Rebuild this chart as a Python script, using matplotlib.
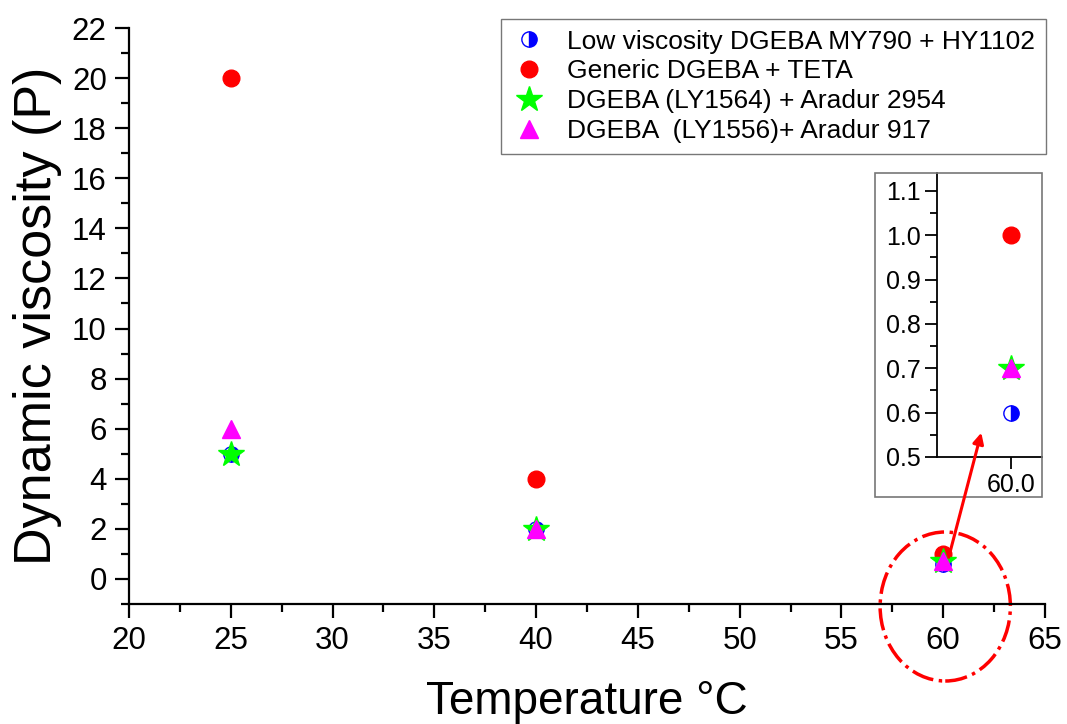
import matplotlib
matplotlib.use("Agg")
import matplotlib.pyplot as plt
from matplotlib.patches import Ellipse, Rectangle, FancyArrowPatch
from matplotlib.ticker import MultipleLocator, FixedLocator, FormatStrFormatter

plt.rcParams['font.family'] = ['Liberation Sans', 'DejaVu Sans']

temps = [25, 40, 60]
low_visc = [5, 2, 0.6]
generic = [20, 4, 1.0]
ly1564 = [5, 2, 0.7]
ly1556 = [6, 2, 0.7]
inset_temp = [60]
labels = ["Low viscosity DGEBA MY790 + HY1102",
          "Generic DGEBA + TETA",
          "DGEBA (LY1564) + Aradur 2954",
          "DGEBA  (LY1556)+ Aradur 917"]

W, H = 1067, 724
fig = plt.figure(figsize=(W/100, H/100), dpi=100)

def fx(px): return px / W
def fy(py): return 1 - py / H

ax = fig.add_axes([fx(129), fy(604), fx(1045) - fx(129), fy(28) - fy(604)])

def draw(a, xs, idx):
    h = []
    h.append(a.plot(xs, [low_visc[i] for i in idx], 'o', ms=11, fillstyle='right',
                    markerfacecolor='#0000ff', markerfacecoloralt='white',
                    markeredgecolor='#0000ff', mew=1, linestyle='none')[0])
    h.append(a.plot(xs, [generic[i] for i in idx], 'o', ms=12, color='#ff0000',
                    mec='#ff0000', linestyle='none')[0])
    h.append(a.plot(xs, [ly1564[i] for i in idx], '*', ms=19, color='#00ff00',
                    mec='#00ff00', linestyle='none')[0])
    h.append(a.plot(xs, [ly1556[i] for i in idx], '^', ms=13, color='#ff00ff',
                    mec='#ff00ff', linestyle='none')[0])
    return h

handles = draw(ax, temps, [0, 1, 2])

ax.set_xlim(20, 65)
ax.set_ylim(-1, 22)
ax.xaxis.set_major_locator(MultipleLocator(5))
ax.xaxis.set_minor_locator(MultipleLocator(2.5))
ax.yaxis.set_major_locator(MultipleLocator(2))
ax.yaxis.set_minor_locator(MultipleLocator(1))
for s in ['top', 'right']:
    ax.spines[s].set_visible(False)
for s in ['left', 'bottom']:
    ax.spines[s].set_linewidth(1.6)
ax.tick_params(which='major', direction='out', length=10, width=1.6, labelsize=22.5, pad=6)
ax.tick_params(which='minor', direction='out', length=5.5, width=1.6)
ax.set_ylim(-1, 22)
ax.set_xlabel("Temperature °C", fontsize=33, labelpad=17)
ax.set_ylabel("Dynamic viscosity (P)", fontsize=37.5, labelpad=7)

leg = fig.legend(handles, labels, loc='upper right',
                 bbox_to_anchor=(fx(1046), fy(19)), fontsize=19, frameon=True,
                 fancybox=False, edgecolor='#555555', handletextpad=0.8,
                 borderpad=0.4, labelspacing=0.22, handlelength=1.3,
                 borderaxespad=0)
leg.get_frame().set_linewidth(1.0)

# dash-dot ellipse
ell = Ellipse((60.1, -1.1), width=6.4, height=5.95, fill=False, edgecolor='#ff0000',
              linestyle='-.', linewidth=2.5, clip_on=False)
ax.add_patch(ell)

# inset frame
rect = Rectangle((fx(875), fy(497)), fx(1042) - fx(875), fy(173) - fy(497),
                 transform=fig.transFigure, fill=False, edgecolor='#777777',
                 linewidth=1.2, zorder=5)
fig.patches.append(rect)

ins = fig.add_axes([fx(937), fy(457), fx(1042) - fx(937), fy(173) - fy(457)])
draw(ins, inset_temp, [2])
ins.set_xlim(58.8, 60.5)
ins.set_ylim(0.5, 1.1406)
ins.xaxis.set_major_locator(FixedLocator([60]))
ins.xaxis.set_major_formatter(FormatStrFormatter('%.1f'))
ins.yaxis.set_major_locator(MultipleLocator(0.1))
ins.yaxis.set_minor_locator(MultipleLocator(0.05))
ins.yaxis.set_major_formatter(FormatStrFormatter('%.1f'))
for s in ['top', 'right']:
    ins.spines[s].set_visible(False)
for s in ['left', 'bottom']:
    ins.spines[s].set_linewidth(1.3)
ins.tick_params(which='major', direction='out', length=8.5, width=1.3, labelsize=18, pad=3)
ins.tick_params(which='minor', direction='out', length=5, width=1.3)
ins.patch.set_alpha(0)

arrow = FancyArrowPatch((fx(948), fy(560)), (fx(982), fy(430)),
                        transform=fig.transFigure, arrowstyle='-|>',
                        mutation_scale=16, color='#ff0000', linewidth=2.2,
                        zorder=10)
fig.patches.append(arrow)

fig.savefig("out.png", dpi=100)
